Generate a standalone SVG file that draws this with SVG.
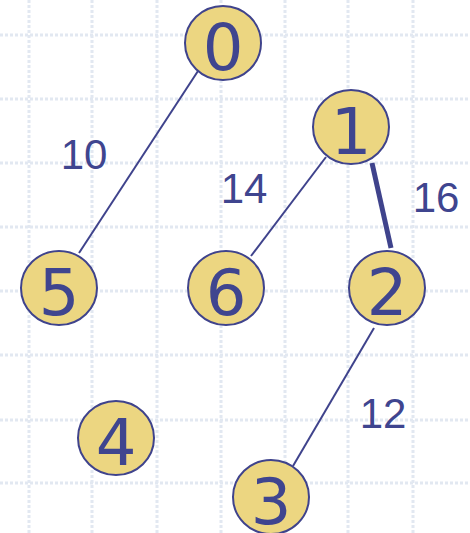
<svg xmlns="http://www.w3.org/2000/svg" width="470" height="533" viewBox="0 0 470 533">
<style>
.grid line{stroke:#e2e8f1;stroke-width:3;stroke-dasharray:3 2}
.node ellipse{fill:#ecd681;stroke:#3f438c;stroke-width:2}
.node text{font-family:"DejaVu Sans",sans-serif;font-size:64px;fill:#3f458f;text-anchor:middle}
.edge{stroke:#3f438c;stroke-width:2;fill:none}
.lbl{font-family:"Liberation Sans",Arial,sans-serif;font-size:42px;fill:#3f458f;text-anchor:middle}
</style>
<rect width="470" height="533" fill="#ffffff"/>
<g class="grid">
<line x1="29" y1="0" x2="29" y2="533"/>
<line x1="92" y1="0" x2="92" y2="533"/>
<line x1="157" y1="0" x2="157" y2="533"/>
<line x1="221" y1="0" x2="221" y2="533"/>
<line x1="285" y1="0" x2="285" y2="533"/>
<line x1="348" y1="0" x2="348" y2="533"/>
<line x1="413" y1="0" x2="413" y2="533"/>
<line x1="0" y1="35" x2="470" y2="35"/>
<line x1="0" y1="99" x2="470" y2="99"/>
<line x1="0" y1="163" x2="470" y2="163"/>
<line x1="0" y1="227" x2="470" y2="227"/>
<line x1="0" y1="291" x2="470" y2="291"/>
<line x1="0" y1="355" x2="470" y2="355"/>
<line x1="0" y1="420" x2="470" y2="420"/>
<line x1="0" y1="483" x2="470" y2="483"/>
</g>
<g id="edges">
<line class="edge" x1="198" y1="71" x2="79" y2="253"/>
<line class="edge" x1="326" y1="157" x2="251" y2="256"/>
<line class="edge" x1="372" y1="163" x2="391" y2="248" style="stroke-width:5"/>
<line class="edge" x1="374" y1="328" x2="293" y2="466"/>
<text class="lbl" x="84" y="169">10</text>
<text class="lbl" x="244" y="203">14</text>
<text class="lbl" x="436" y="212">16</text>
<text class="lbl" x="383" y="428">12</text>
</g>
<g id="n0" class="node"><ellipse cx="223" cy="43" rx="38" ry="37"/><text x="223" y="70">0</text></g>
<g id="n1" class="node"><ellipse cx="351" cy="127" rx="38" ry="37"/><text x="351" y="154">1</text></g>
<g id="n5" class="node"><ellipse cx="59" cy="288" rx="38" ry="37"/><text x="59" y="315">5</text></g>
<g id="n6" class="node"><ellipse cx="226" cy="288" rx="38" ry="37"/><text x="226" y="315">6</text></g>
<g id="n2" class="node"><ellipse cx="387" cy="288" rx="38" ry="37"/><text x="387" y="315">2</text></g>
<g id="n4" class="node"><ellipse cx="116" cy="438" rx="38" ry="37"/><text x="116" y="465">4</text></g>
<g id="n3" class="node"><ellipse cx="271" cy="497" rx="38" ry="37"/><text x="271" y="524">3</text></g>
</svg>
